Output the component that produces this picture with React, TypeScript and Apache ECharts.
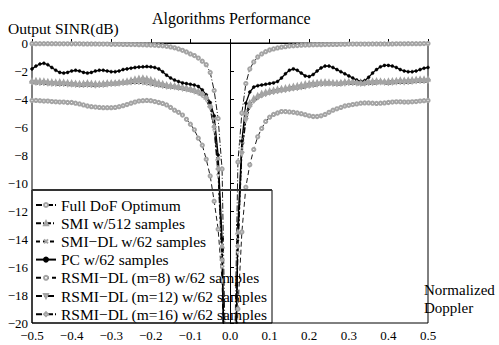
import React, { useEffect, useRef } from "react";
import * as echarts from "echarts";

// Normalized Doppler sample grid: -0.50 ... 0.50 in steps of 0.01 (101 samples)
const DOPPLER: number[] = Array.from({ length: 101 }, (_, i) => (i - 50) / 100);

const SERIES_NAMES = [
  "Full DoF Optimum",
  "SMI w/512 samples",
  "SMI\u2212DL w/62 samples",
  "PC w/62 samples",
  "RSMI\u2212DL (m=8) w/62 samples",
  "RSMI\u2212DL (m=12) w/62 samples",
  "RSMI\u2212DL (m=16) w/62 samples",
];

const FULL_DOF = [
  -0.05, -0.05, -0.05, -0.05, -0.05, -0.05, -0.05, -0.06, -0.06, -0.06,
  -0.06, -0.06, -0.06, -0.07, -0.07, -0.07, -0.07, -0.08, -0.08, -0.08,
  -0.09, -0.09, -0.09, -0.1, -0.1, -0.11, -0.11, -0.12, -0.13, -0.14,
  -0.15, -0.16, -0.18, -0.2, -0.24, -0.28, -0.34, -0.42, -0.52, -0.64,
  -0.78, -0.9, -1.08, -1.3, -1.55, -2.1, -3.4, -5.4, -9.0, -25,
  -40,
  -25, -8.5, -5.0, -2.9, -1.85, -1.35, -1.0, -0.78, -0.62, -0.5,
  -0.42, -0.35, -0.3, -0.26, -0.22, -0.2, -0.18, -0.16, -0.15, -0.14,
  -0.13, -0.12, -0.12, -0.11, -0.11, -0.1, -0.1, -0.09, -0.09, -0.08,
  -0.08, -0.08, -0.08, -0.08, -0.08, -0.07, -0.07, -0.07, -0.07, -0.07,
  -0.07, -0.06, -0.06, -0.06, -0.05, -0.05, -0.05, -0.05, -0.04, -0.04,
];

const SMI_512 = [
  -2.7, -2.68, -2.7, -2.72, -2.75, -2.78, -2.8, -2.78, -2.8, -2.82,
  -2.85, -2.88, -2.9, -2.88, -2.85, -2.88, -2.9, -2.92, -2.88, -2.85,
  -2.85, -2.85, -2.82, -2.78, -2.72, -2.65, -2.58, -2.52, -2.5, -2.55,
  -2.62, -2.72, -2.82, -2.9, -2.98, -3.02, -3.06, -3.1, -3.15, -3.2,
  -3.28, -3.35, -3.45, -3.6, -3.85, -4.4, -5.3, -8.2, -14.5, -30,
  -40,
  -30, -13.5, -7.0, -5.0, -4.25, -3.95, -3.75, -3.6, -3.5, -3.42,
  -3.36, -3.3, -3.25, -3.2, -3.15, -3.1, -3.05, -2.98, -2.92, -2.88,
  -2.85, -2.82, -2.8, -2.78, -2.8, -2.82, -2.85, -2.82, -2.78, -2.75,
  -2.75, -2.78, -2.8, -2.78, -2.75, -2.72, -2.7, -2.72, -2.75, -2.72,
  -2.7, -2.68, -2.65, -2.66, -2.65, -2.62, -2.6, -2.58, -2.58, -2.56,
];

const SMI_DL = [
  -2.8, -2.82, -2.85, -2.85, -2.88, -2.9, -2.88, -2.9, -2.92, -2.95,
  -2.95, -2.97, -3.0, -3.0, -2.98, -3.0, -3.02, -3.0, -2.98, -2.95,
  -2.92, -2.9, -2.88, -2.85, -2.8, -2.75, -2.72, -2.75, -2.8, -2.85,
  -2.9, -2.95, -3.0, -3.05, -3.1, -3.12, -3.15, -3.2, -3.25, -3.3,
  -3.35, -3.45, -3.55, -3.7, -3.95, -4.5, -5.8, -8.8, -15, -30,
  -40,
  -30, -14, -7.5, -5.2, -4.4, -4.05, -3.85, -3.7, -3.6, -3.5,
  -3.45, -3.4, -3.35, -3.3, -3.25, -3.22, -3.2, -3.15, -3.1, -3.05,
  -3.0, -2.95, -2.92, -2.9, -2.88, -2.9, -2.92, -2.9, -2.88, -2.85,
  -2.85, -2.88, -2.9, -2.88, -2.85, -2.85, -2.82, -2.8, -2.82, -2.85,
  -2.82, -2.8, -2.78, -2.8, -2.78, -2.75, -2.72, -2.7, -2.7, -2.68,
];

const PC_62 = [
  -1.85, -1.65, -1.5, -1.45, -1.55, -1.75, -1.95, -2.1, -2.15, -2.1,
  -2.0, -1.95, -2.0, -2.1, -2.15, -2.1, -2.0, -1.95, -1.95, -2.0,
  -2.05, -2.05, -2.0, -1.9, -1.85, -1.8, -1.75, -1.72, -1.7, -1.68,
  -1.7, -1.75, -1.85, -2.05, -2.3, -2.5, -2.65, -2.75, -2.85, -2.9,
  -2.95, -3.0, -3.1, -3.35, -3.7, -4.25, -5.2, -8.0, -14, -30,
  -40,
  -30, -13, -7.0, -4.3, -3.5, -3.15, -3.05, -3.0, -2.95, -2.9,
  -2.85, -2.75, -2.5, -2.2, -1.95, -1.85, -1.95, -2.15, -2.35, -2.4,
  -2.25, -2.0, -1.78, -1.65, -1.65, -1.75, -1.9, -2.05, -2.2, -2.35,
  -2.5, -2.65, -2.75, -2.7, -2.45, -2.15, -1.9, -1.7, -1.6, -1.6,
  -1.65, -1.75, -1.9, -2.0, -2.05, -2.05, -2.0, -1.9, -1.8, -1.75,
];

const RSMI_M8 = [
  -4.1, -4.1, -4.12, -4.15, -4.15, -4.18, -4.2, -4.22, -4.22, -4.25,
  -4.25, -4.3, -4.35, -4.42, -4.5, -4.55, -4.58, -4.6, -4.62, -4.62,
  -4.62, -4.6, -4.55, -4.48, -4.4, -4.3, -4.22, -4.15, -4.12, -4.1,
  -4.12, -4.18, -4.25, -4.32, -4.42, -4.6, -4.8, -4.95, -5.15, -5.45,
  -5.8, -6.2, -6.8, -7.3, -8.3, -9.5, -11.3, -13.3, -17.0, -30,
  -40,
  -30, -19, -13.5, -10.3, -8.7, -7.6, -6.7, -6.1, -5.6, -5.3,
  -5.1, -5.0, -4.9, -4.9, -4.92, -4.95, -5.0, -5.05, -5.12, -5.2,
  -5.25, -5.25, -5.2, -5.1, -4.95, -4.8, -4.7, -4.6, -4.5, -4.45,
  -4.4, -4.35, -4.3, -4.28, -4.28, -4.3, -4.32, -4.3, -4.28, -4.25,
  -4.22, -4.2, -4.2, -4.22, -4.22, -4.2, -4.18, -4.15, -4.12, -4.1,
];

const RSMI_M12 = [
  -2.9, -2.92, -2.95, -2.95, -2.98, -3.0, -3.0, -3.02, -3.02, -3.05,
  -3.05, -3.08, -3.1, -3.1, -3.08, -3.1, -3.12, -3.1, -3.08, -3.05,
  -3.02, -3.0, -2.98, -2.95, -2.92, -2.9, -2.88, -2.88, -2.9, -2.95,
  -3.0, -3.05, -3.1, -3.15, -3.2, -3.22, -3.25, -3.3, -3.35, -3.4,
  -3.45, -3.55, -3.65, -3.82, -4.1, -4.7, -6.3, -9.5, -16, -30,
  -40,
  -30, -15, -8.0, -5.6, -4.6, -4.2, -3.95, -3.8, -3.7, -3.6,
  -3.55, -3.5, -3.45, -3.4, -3.35, -3.32, -3.3, -3.25, -3.2, -3.15,
  -3.1, -3.05, -3.02, -3.0, -2.98, -3.0, -3.02, -3.0, -2.98, -2.95,
  -2.95, -2.98, -3.0, -2.98, -2.95, -2.95, -2.92, -2.9, -2.92, -2.95,
  -2.92, -2.9, -2.88, -2.9, -2.88, -2.85, -2.82, -2.8, -2.8, -2.78,
];

const RSMI_M16 = [
  -2.75, -2.78, -2.8, -2.82, -2.82, -2.85, -2.85, -2.85, -2.88, -2.9,
  -2.92, -2.92, -2.95, -2.95, -2.92, -2.95, -2.98, -2.95, -2.92, -2.9,
  -2.88, -2.85, -2.82, -2.8, -2.78, -2.75, -2.7, -2.68, -2.7, -2.75,
  -2.82, -2.88, -2.95, -3.0, -3.05, -3.08, -3.1, -3.15, -3.2, -3.25,
  -3.3, -3.4, -3.5, -3.65, -3.9, -4.55, -6.0, -9.0, -15.5, -30,
  -40,
  -30, -14.5, -7.8, -5.4, -4.5, -4.1, -3.9, -3.75, -3.65, -3.55,
  -3.5, -3.45, -3.4, -3.35, -3.3, -3.25, -3.2, -3.15, -3.08, -3.0,
  -2.95, -2.9, -2.88, -2.85, -2.85, -2.88, -2.88, -2.85, -2.82, -2.8,
  -2.8, -2.82, -2.85, -2.85, -2.82, -2.8, -2.78, -2.76, -2.78, -2.8,
  -2.78, -2.75, -2.72, -2.72, -2.7, -2.68, -2.66, -2.65, -2.65, -2.62,
];

const SERIES_VALUES = [FULL_DOF, SMI_512, SMI_DL, PC_62, RSMI_M8, RSMI_M12, RSMI_M16];

const X_MIN = -0.5;
const X_MAX = 0.5;
const X_STEP = 0.1;
const Y_MIN = -20;
const Y_MAX = 0;
const Y_STEP = 2;

const FONT = "Liberation Serif";
const GRAY = "#a4a4a4";

const SYMBOLS = [
  "emptyCircle",
  "emptyTriangle",
  "path://M0,0L10,10M10,0L0,10",
  "circle",
  "emptyCircle",
  "path://M0,0L10,0L5,10Z",
  "emptyDiamond",
];
const DASHES: any[] = [
  [6, 2, 1, 2],
  [5, 2, 1, 2],
  [4, 3],
  "solid",
  [5, 3],
  [6, 2, 2, 2],
  [6, 2, 1, 2],
];

function minusFmt(v: number, digits: number) {
  const s = Math.abs(v).toFixed(digits);
  return v < -1e-9 ? "\u2212" + s : s;
}

export default function App() {
  const ref = useRef<HTMLDivElement>(null);
  useEffect(() => {
    if (!ref.current) return;
    const chart = echarts.init(ref.current, undefined, { renderer: "svg" });
    const series = SERIES_NAMES.map((name, k) => {
      const isPC = k === 3;
      const isPath = SYMBOLS[k].startsWith("path://");
      return {
        name,
        type: "line",
        data: DOPPLER.map((x, i) => [x, SERIES_VALUES[k][i]]),
        symbol: SYMBOLS[k],
        symbolSize: isPC ? 3 : 3.2,
        showSymbol: true,
        showAllSymbol: true,
        clip: true,
        lineStyle: { color: "#000", width: isPC ? 1.3 : 0.9, type: DASHES[k] },
        itemStyle: isPC
          ? { color: "#000", borderColor: "#000", borderWidth: 0.5 }
          : isPath
          ? { color: k === 5 ? "#fff" : GRAY, borderColor: GRAY, borderWidth: 0.8 }
          : { color: GRAY, borderColor: GRAY, borderWidth: 0.8 },
        emphasis: { disabled: true },
      };
    });
    chart.setOption({
      animation: false,
      backgroundColor: "#fff",
      textStyle: { fontFamily: FONT },
      title: [
        {
          text: "Algorithms Performance",
          left: 147,
          top: 5,
          padding: 5,
          textStyle: { fontFamily: FONT, fontSize: 16, fontWeight: "normal", color: "#000" },
        },
        {
          text: "Output SINR(dB)",
          left: 3,
          top: 15,
          padding: 5,
          textStyle: { fontFamily: FONT, fontSize: 15.5, fontWeight: "normal", color: "#000" },
        },
        {
          text: "Normalized\nDoppler",
          left: 419,
          top: 276,
          padding: 5,
          textStyle: {
            fontFamily: FONT,
            fontSize: 15,
            fontWeight: "normal",
            color: "#000",
            lineHeight: 18,
          },
        },
      ],
      grid: {
        left: 32,
        right: 71,
        top: 43,
        bottom: 22,
        show: true,
        borderColor: "#000",
        borderWidth: 1,
        backgroundColor: "transparent",
      },
      legend: {
        orient: "vertical",
        left: 35,
        top: 196,
        padding: 0,
        itemGap: 0.2,
        itemWidth: 20,
        itemHeight: 5,
        data: SERIES_NAMES,
        textStyle: { fontFamily: FONT, fontSize: 15.5, color: "#000", lineHeight: 18 },
        selectedMode: false,
      },
      xAxis: {
        type: "value",
        min: X_MIN,
        max: X_MAX,
        interval: X_STEP,
        axisLine: { lineStyle: { color: "#000", width: 1 } },
        axisTick: { inside: true, length: 4, lineStyle: { color: "#000" } },
        axisLabel: {
          margin: 6,
          fontFamily: FONT,
          fontSize: 13,
          color: "#000",
          formatter: (v: number) => minusFmt(v, 1),
        },
        splitLine: { show: false },
      },
      yAxis: {
        type: "value",
        min: Y_MIN,
        max: Y_MAX,
        interval: Y_STEP,
        axisLine: { show: true, lineStyle: { color: "#000", width: 1 } },
        axisTick: { show: true, inside: true, length: 4, lineStyle: { color: "#000" } },
        axisLabel: {
          margin: 4,
          fontFamily: FONT,
          fontSize: 13,
          color: "#000",
          formatter: (v: number) => minusFmt(v, 0),
        },
        splitLine: { show: false },
      },
      graphic: [
        {
          type: "rect",
          shape: { x: 32, y: 190, width: 240, height: 133 },
          style: { fill: "none", stroke: "#000", lineWidth: 1 },
          silent: true,
          z: 10,
        },
        {
          type: "line",
          shape: { x1: 32, y1: 190, x2: 272, y2: 190 },
          style: { stroke: "#333", lineWidth: 2 },
          silent: true,
          z: 10,
        },
      ],
      series,
    });
    return () => chart.dispose();
  }, []);
  return (
    <div
      ref={ref}
      style={{ position: "fixed", left: 0, top: 0, width: 499, height: 345 }}
    />
  );
}
